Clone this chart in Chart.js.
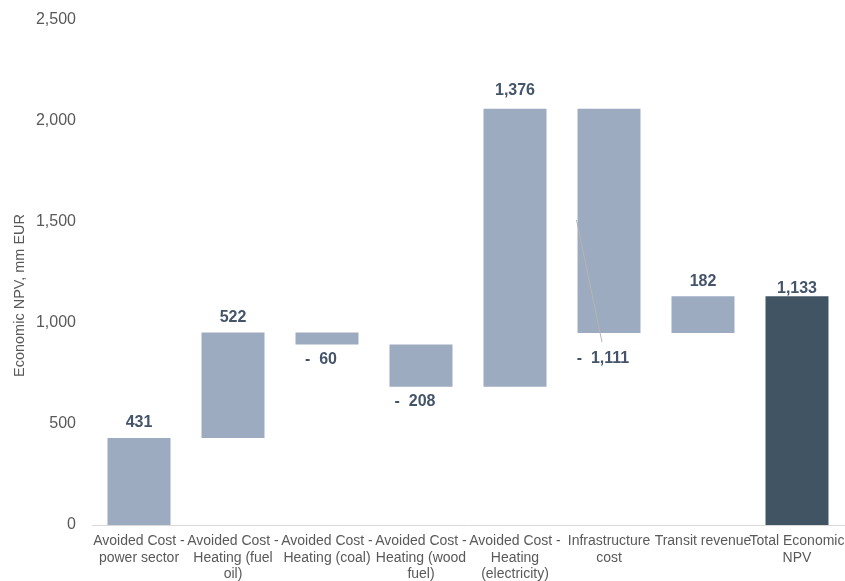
<!DOCTYPE html>
<html>
<head>
<meta charset="utf-8">
<script src="https://cdn.jsdelivr.net/npm/chart.js@4"></script>
<style>
  html, body { margin: 0; padding: 0; background: #fff; }
  #wrap { width: 845px; height: 581px; position: relative; }
</style>
</head>
<body>
<div id="wrap"><canvas id="npvChart"></canvas></div>
<script>
// categories (split into lines the way they wrap under the axis)
const categories = [
    ['Avoided Cost -', 'power sector'],
    ['Avoided Cost -', 'Heating (fuel', 'oil)'],
    ['Avoided Cost -', 'Heating (coal)'],
    ['Avoided Cost -', 'Heating (wood', 'fuel)'],
    ['Avoided Cost -', 'Heating', '(electricity)'],
    ['Infrastructure', 'cost'],
    ['Transit revenue'],
    ['Total Economic', 'NPV']
];
// step values in mm EUR, last one is the total
const steps = [431, 522, -60, -208, 1376, -1111, 182];
const total = 1133;
const yTicks = [0, 500, 1000, 1500, 2000, 2500];

// per-label vertical gap from the bar edge (px)
const labelGap = [7, 7, 7, 7, 10, 17, 7, 0];

const lightBar = '#9dabc0';
const darkBar = '#405463';
const labelColor = '#44546a';
const axisText = '#595959';

// build floating bars [start, end] from the running sum
const ranges = [];
let running = 0;
steps.forEach(v => {
    ranges.push([running, running + v]);
    running += v;
});
ranges.push([0, total]);
const values = steps.concat([total]);

function fmt(n) {
    const s = Math.abs(n).toLocaleString('en-US');
    return n < 0 ? '-  ' + s : s;
}

// value labels above (positive) or below (negative) each bar
const valueLabels = {
    id: 'valueLabels',
    afterDatasetsDraw(chart) {
        const ctx = chart.ctx;
        const meta = chart.getDatasetMeta(0);
        ctx.save();
        ctx.font = 'bold 16px "Liberation Sans", Arial, sans-serif';
        ctx.fillStyle = labelColor;
        ctx.textAlign = 'center';
        meta.data.forEach((bar, i) => {
            const v = values[i];
            const [a, b] = ranges[i];
            const top = chart.scales.y.getPixelForValue(Math.max(a, b));
            const bottom = chart.scales.y.getPixelForValue(Math.min(a, b));
            if (v >= 0) {
                ctx.textBaseline = 'bottom';
                ctx.fillText(fmt(v), bar.x, top - labelGap[i]);
            } else {
                ctx.textBaseline = 'top';
                ctx.fillText(fmt(v), bar.x - 6, bottom + labelGap[i]);
            }
        });

        // leader line for the infrastructure label
        const bar = meta.data[5];
        const y = chart.scales.y;
        ctx.strokeStyle = '#b4b4b4';
        ctx.lineWidth = 1;
        ctx.beginPath();
        ctx.moveTo(bar.x - bar.width / 2 - 1, y.getPixelForValue(1510));
        ctx.lineTo(bar.x - 7, y.getPixelForValue(Math.min(...ranges[5])) + labelGap[5] - 8);
        ctx.stroke();
        ctx.restore();
    }
};

// rotated axis title
const axisTitle = {
    id: 'axisTitle',
    afterDraw(chart) {
        const ctx = chart.ctx;
        const area = chart.chartArea;
        ctx.save();
        ctx.translate(20, (area.top + area.bottom) / 2 + 23);
        ctx.rotate(-Math.PI / 2);
        ctx.font = '14.5px "Liberation Sans", Arial, sans-serif';
        ctx.fillStyle = axisText;
        ctx.textAlign = 'center';
        ctx.textBaseline = 'middle';
        ctx.fillText('Economic NPV, mm EUR', 0, 0);
        ctx.restore();
    }
};

new Chart(document.getElementById('npvChart'), {
    type: 'bar',
    data: {
        labels: categories,
        datasets: [{
            data: ranges,
            backgroundColor: values.map((v, i) => i === values.length - 1 ? darkBar : lightBar),
            borderWidth: 0,
            categoryPercentage: 1,
            barPercentage: 0.67
        }]
    },
    options: {
        responsive: true,
        maintainAspectRatio: false,
        animation: false,
        layout: { padding: { top: 20, right: 1, left: 0, bottom: 0 } },
        plugins: {
            legend: { display: false },
            tooltip: { enabled: false }
        },
        scales: {
            x: {
                grid: { display: false, drawTicks: false },
                border: { display: true, color: '#d9d9d9', width: 1 },
                ticks: {
                    color: axisText,
                    font: { family: '"Liberation Sans", Arial, sans-serif', size: 14, lineHeight: 1.18 },
                    padding: 8,
                    maxRotation: 0,
                    autoSkip: false
                },
                afterFit(scale) {
                    scale.height = 56;
                    scale.paddingLeft = 0;
                    scale.paddingRight = 0;
                }
            },
            y: {
                min: 0,
                max: 2500,
                afterBuildTicks(scale) { scale.ticks = yTicks.map(v => ({ value: v })); },
                grid: { display: false, drawTicks: false },
                border: { display: false },
                ticks: {
                    color: axisText,
                    font: { family: '"Liberation Sans", Arial, sans-serif', size: 16 },
                    padding: 16,
                    callback: v => v.toLocaleString('en-US')
                },
                afterFit(scale) {
                    scale.width = 92;
                    scale.paddingTop = 0;
                    scale.paddingBottom = 0;
                }
            }
        }
    },
    plugins: [valueLabels, axisTitle]
});
</script>
</body>
</html>
